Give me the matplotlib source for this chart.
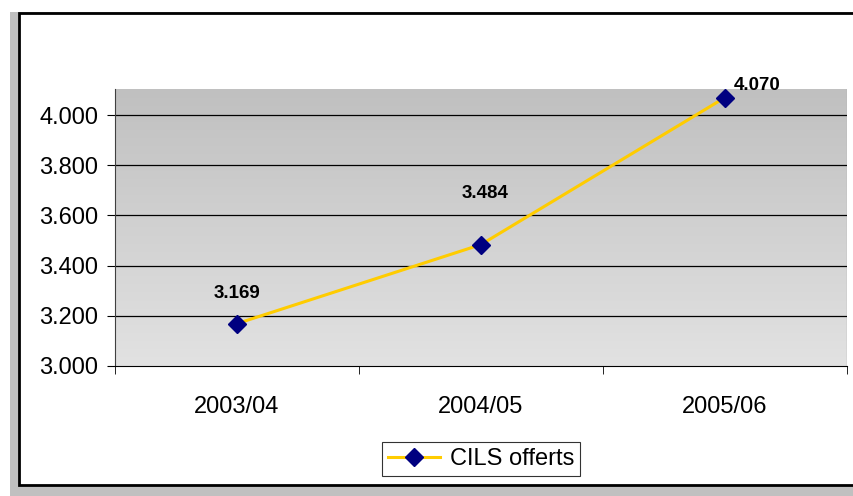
import matplotlib.pyplot as plt
import numpy as np
from matplotlib.patches import Rectangle

plt.rcParams['font.family'] = ['Liberation Sans', 'DejaVu Sans']

# data
years = ['2003/04', '2004/05', '2005/06']
cils = [3169, 3484, 4070]
label_txt = ['3.169', '3.484', '4.070']
yticks = [3000, 3200, 3400, 3600, 3800, 4000]
ytick_lbl = ['3.000', '3.200', '3.400', '3.600', '3.800', '4.000']

W, H = 854, 496
fig = plt.figure(figsize=(W / 100, H / 100), dpi=100)

# outer frame (gray shadow + white panel with black border)
fig.patches.append(Rectangle((10 / W, 0), 1, (H - 12) / H, transform=fig.transFigure,
                             facecolor='#c0c0c0', edgecolor='none', zorder=0))
fig.patches.append(Rectangle((19 / W, (H - 485) / H), 1, (485 - 13) / H, transform=fig.transFigure,
                             facecolor='white', edgecolor='black', lw=2, zorder=1))

ax = fig.add_axes([115 / W, (H - 366) / H, (847 - 115) / W, (366 - 89) / H])
ax.set_zorder(2)
ax.patch.set_visible(False)

x = np.arange(len(years))
ax.set_xlim(-0.5, 2.5)
ax.set_ylim(3000, 4104)

# gradient background
grad = np.linspace(0, 1, 256).reshape(-1, 1)
ax.imshow(grad, extent=[-0.5, 2.5, 3000, 4104], aspect='auto', origin='upper',
          cmap=plt.matplotlib.colors.LinearSegmentedColormap.from_list('g', ['#c0c0c0', '#e2e2e2']),
          zorder=0)
ax.axvline(2.5, color='#b0b0b0', lw=1, zorder=1)

for t in yticks[1:]:
    ax.axhline(t, color='black', lw=0.9, zorder=1)

ax.plot(x, cils, color='#ffcc00', lw=2.2, marker='D', markersize=9.5,
        markerfacecolor='#000080', markeredgecolor='#000080', label='CILS offerts', zorder=3)

offsets = [(0, 30), (4, 51), (32, 12)]
for xi, v, t, off in zip(x, cils, label_txt, offsets):
    ax.annotate(t, (xi, v), xytext=off, textcoords='offset pixels', ha='center', va='center',
                fontsize=13.5, fontweight='bold', zorder=4)

ax.set_yticks(yticks)
ax.set_yticklabels(ytick_lbl, fontsize=17)
ax.set_xticks(x)
ax.set_xticklabels(years, fontsize=17)
ax.set_xticks([-0.5, 0.5, 1.5, 2.5], minor=True)
ax.tick_params(axis='x', which='major', length=0, pad=21.5)
ax.tick_params(axis='x', which='minor', length=6, direction='out', color='black')
ax.tick_params(axis='y', length=6, direction='out', color='black', pad=6)

for s in ['top', 'right']:
    ax.spines[s].set_visible(False)
ax.spines['left'].set_color('#404040')
ax.spines['bottom'].set_color('black')

leg = ax.legend(loc='center', bbox_to_anchor=((481 - 115) / (847 - 115), -(459 - 366) / (366 - 89)),
                fontsize=17, frameon=True, fancybox=False, edgecolor='black',
                handlelength=2.2, borderpad=0.25, handletextpad=0.4)
leg.get_frame().set_linewidth(0.8)

fig.savefig('out.png', dpi=100)
